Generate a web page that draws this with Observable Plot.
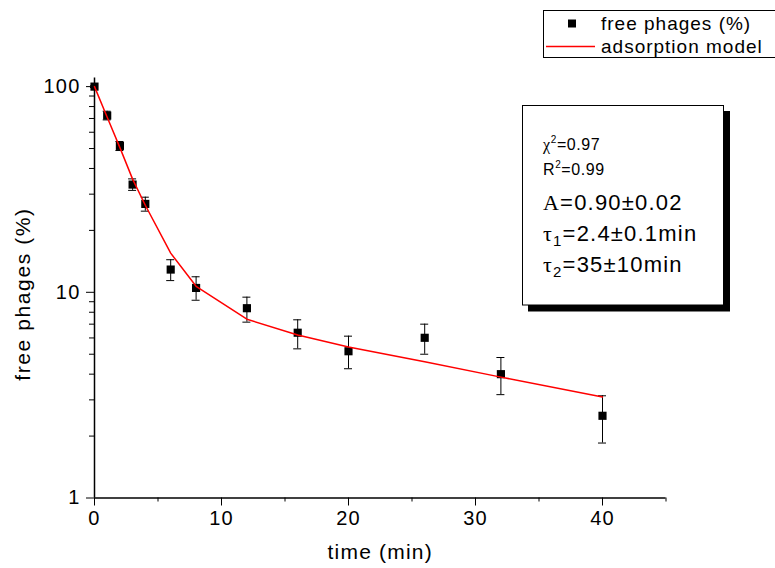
<!DOCTYPE html>
<html><head><meta charset="utf-8">
<script src="https://cdn.jsdelivr.net/npm/d3@7"></script>
<script src="https://cdn.jsdelivr.net/npm/@observablehq/plot@0.6"></script>
<style>
body{margin:0;background:#fff}
#chart svg{font-family:"Liberation Sans",Arial,sans-serif;background:#fff}
</style></head><body><div id="chart"></div>
<script>
// ---- data ----
const times        = [0, 1, 2, 3, 4, 6, 8, 12, 16, 20, 26, 32, 40];
const freePhages   = [100, 72.3, 51.5, 33.4, 26.9, 12.9, 10.5, 8.37, 6.36, 5.17, 6.01, 4.0, 2.51];
const errLow       = [99, 68.9, 48.9, 31.3, 24.8, 11.4, 9.15, 7.16, 5.31, 4.25, 5.0, 3.18, 1.85];
const errHigh      = [101, 75.9, 54.1, 35.6, 29.0, 14.4, 11.9, 9.47, 7.35, 6.12, 7.0, 4.82, 3.14];
const modelTimes   = [0, 1, 2, 3, 4, 6, 8, 12, 16, 20, 26, 32, 40];
const modelValues  = [100, 71, 50.5, 35.5, 26.5, 15.5, 10.7, 7.4, 6.2, 5.42, 4.6, 3.87, 3.1];
const xTicks       = [0, 10, 20, 30, 40];
const xMinorTicks  = [5, 15, 25, 35, 45];
const yTicks       = [1, 10, 100];
const yMinorTicks  = [2, 3, 4, 5, 6, 7, 8, 9, 20, 30, 40, 50, 60, 70, 80, 90];
const xLabel = "time (min)";
const yLabel = "free phages (%)";
const legendLabels = ["free phages (%)", "adsorption model"];

const pts = times.map((t, i) => ({t, v: freePhages[i], lo: errLow[i], hi: errHigh[i]}));
const model = modelTimes.map((t, i) => ({t, v: modelValues[i]}));

const capHalf = 0.315;
const plot = Plot.plot({
  width: 775, height: 568,
  marginLeft: 94, marginRight: 109.5, marginTop: 77.6, marginBottom: 70.5,
  x: {domain: [0, 45]},
  y: {type: "log", domain: [1, 110]},
  style: {fontFamily: "Liberation Sans, Arial, sans-serif", color: "#000", background: "#fff"},
  marks: [
    Plot.axisX({ticks: xTicks, tickSize: 8, tickPadding: 5, fontSize: 20, label: null, tickFormat: d3.format("d")}),
    Plot.axisX({ticks: xMinorTicks, tickSize: 4, tickFormat: () => "", label: null}),
    Plot.axisY({ticks: yTicks, tickSize: 8, tickPadding: 6, fontSize: 20, label: null, tickFormat: d3.format("d")}),
    Plot.axisY({ticks: yMinorTicks, tickSize: 5, tickFormat: () => "", label: null}),
    Plot.ruleY([1], {strokeWidth: 1.5}),
    Plot.ruleX([0], {strokeWidth: 1.5}),
    Plot.text([xLabel], {frameAnchor: "bottom", dy: 61, fontSize: 21, text: d => d}),
    Plot.text([yLabel], {frameAnchor: "left", textAnchor: "middle", rotate: -90, dx: -71, dy: 6, fontSize: 21, text: d => d}),
    Plot.ruleX(pts, {x: "t", y1: "lo", y2: "hi", stroke: "#000", strokeWidth: 1}),
    Plot.ruleY(pts, {y: "hi", x1: d => d.t - capHalf, x2: d => d.t + capHalf, stroke: "#000", strokeWidth: 1}),
    Plot.ruleY(pts, {y: "lo", x1: d => d.t - capHalf, x2: d => d.t + capHalf, stroke: "#000", strokeWidth: 1}),
    Plot.dot(pts, {x: "t", y: "v", symbol: "square", r: 4.6, fill: "#000", stroke: null}),
    Plot.line(model, {x: "t", y: "v", stroke: "#ff0000", strokeWidth: 1.5})
  ]
});

document.getElementById("chart").appendChild(plot);
const svg = d3.select(plot);
svg.selectAll("text").style("letter-spacing", "1.2px");
svg.selectAll("text").filter(function() { return this.textContent === yLabel; }).style("letter-spacing", "1.6px");

// legend
const lg = svg.append("g").attr("font-size", 19).attr("text-anchor", "start").style("letter-spacing", "1px");
lg.append("rect").attr("x", 543.5).attr("y", 10.5).attr("width", 240).attr("height", 47)
  .attr("fill", "#fff").attr("stroke", "#000");
lg.append("rect").attr("x", 568).attr("y", 19.5).attr("width", 8).attr("height", 8).attr("fill", "#000");
lg.append("line").attr("x1", 546).attr("x2", 595).attr("y1", 46.5).attr("y2", 46.5)
  .attr("stroke", "#ff0000").attr("stroke-width", 1.5);
lg.append("text").attr("x", 601).attr("y", 30).text(legendLabels[0]);
lg.append("text").attr("x", 601).attr("y", 53).text(legendLabels[1]);

// stats box
const bx = svg.append("g").attr("text-anchor", "start");
bx.append("rect").attr("x", 528).attr("y", 111).attr("width", 202).attr("height", 200.5).attr("fill", "#000");
bx.append("rect").attr("x", 522.5).attr("y", 105.5).attr("width", 201).attr("height", 199.5)
  .attr("fill", "#fff").attr("stroke", "#000");
const serif = "Liberation Serif, DejaVu Serif, serif";
function line1(y, greek, sup, rest, size, supSize, supDy, ls) {
  const t = bx.append("text").attr("x", 543).attr("y", y).attr("font-size", size).style("letter-spacing", ls);
  t.append("tspan").attr("font-family", greek.serif ? serif : null).text(greek.s);
  t.append("tspan").attr("font-size", supSize).attr("dy", supDy).text(sup);
  t.append("tspan").attr("dy", -supDy).text(rest);
}
line1(150, {s: "χ", serif: true}, "2", "=0.97", 16, 10, -7, "0.6px");
line1(175, {s: "R", serif: false}, "2", "=0.99", 16, 10, -7, "0.6px");
const a = bx.append("text").attr("x", 543).attr("y", 210).attr("font-size", 22).style("letter-spacing", "1.2px");
a.append("tspan").attr("font-family", serif).text("A");
a.append("tspan").text("=0.90±0.02");
line1(241, {s: "τ", serif: true}, "1", "=2.4±0.1min", 22, 15, 5, "1.2px");
line1(272, {s: "τ", serif: true}, "2", "=35±10min", 22, 15, 5, "1.2px");
</script></body></html>
